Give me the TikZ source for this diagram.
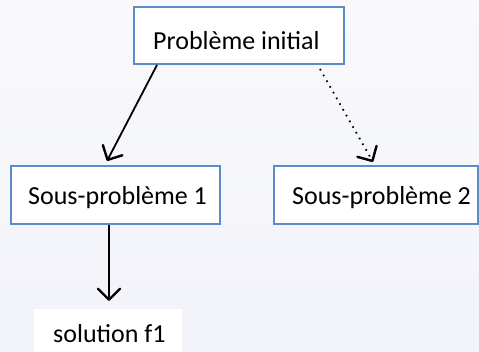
\documentclass[tikz,border=0pt]{standalone}
\usepackage{fontspec}
\setmainfont{Carlito}
\usetikzlibrary{arrows.meta,calc}
\definecolor{boxblue}{HTML}{5B8BC9}
\definecolor{bgtop}{HTML}{F9F9FB}
\definecolor{bgbot}{HTML}{F2F3FA}
\tikzset{
  boxnode/.style={draw=boxblue,line width=2pt,fill=white,rectangle,inner sep=0pt},
  plainbox/.style={fill=white,rectangle,inner sep=0pt},
  txt/.style={anchor=base west,inner sep=0pt,font=\fontsize{26}{30}\selectfont},
  arr/.style={line width=1.8pt,-{Straight Barb[length=11pt,width=22pt,line width=2.4pt,round]}},
  dotarr/.style={line width=1.8pt,dash pattern=on 1.6pt off 5pt,-{Straight Barb[length=11pt,width=22pt,line width=2.4pt,round]}}
}
\begin{document}
\begin{tikzpicture}[x=1pt,y=-1pt]
\shade[top color=bgtop,bottom color=bgbot] (0,0) rectangle (479,352);
\useasboundingbox (0,0) rectangle (479,352);
\node[boxnode,anchor=north west,minimum width=210pt,minimum height=57pt] (p0) at (133,6) {};
\node[txt] (t0) at (153,50) {Problème initial};
\node[boxnode,anchor=north west,minimum width=209pt,minimum height=58pt] (p1) at (10,165) {};
\node[txt] (t1) at (28,205) {Sous-problème 1};
\node[boxnode,anchor=north west,minimum width=204pt,minimum height=58pt] (p2) at (273,165) {};
\node[txt] (t2) at (292,205) {Sous-problème 2};
\node[plainbox,anchor=north west,minimum width=148pt,minimum height=50pt] (s1) at (34,309) {};
\node[txt] (t3) at (53,343) {solution f1};
\coordinate (a0) at ($(p0.south west)+(24,0)$);
\coordinate (a1) at ($(p1.north west)+(97,-4)$);
\coordinate (b0) at ($(p0.south west)+(187,4)$);
\coordinate (b1) at ($(p2.north west)+(100,-3)$);
\coordinate (c0) at ($(p1.south west)+(99,0)$);
\coordinate (c1) at ($(s1.north west)+(75,-8)$);
\draw[arr] (a0) -- (a1);
\draw[dotarr] (b0) -- (b1);
\draw[arr] (c0) -- (c1);
\end{tikzpicture}
\end{document}
